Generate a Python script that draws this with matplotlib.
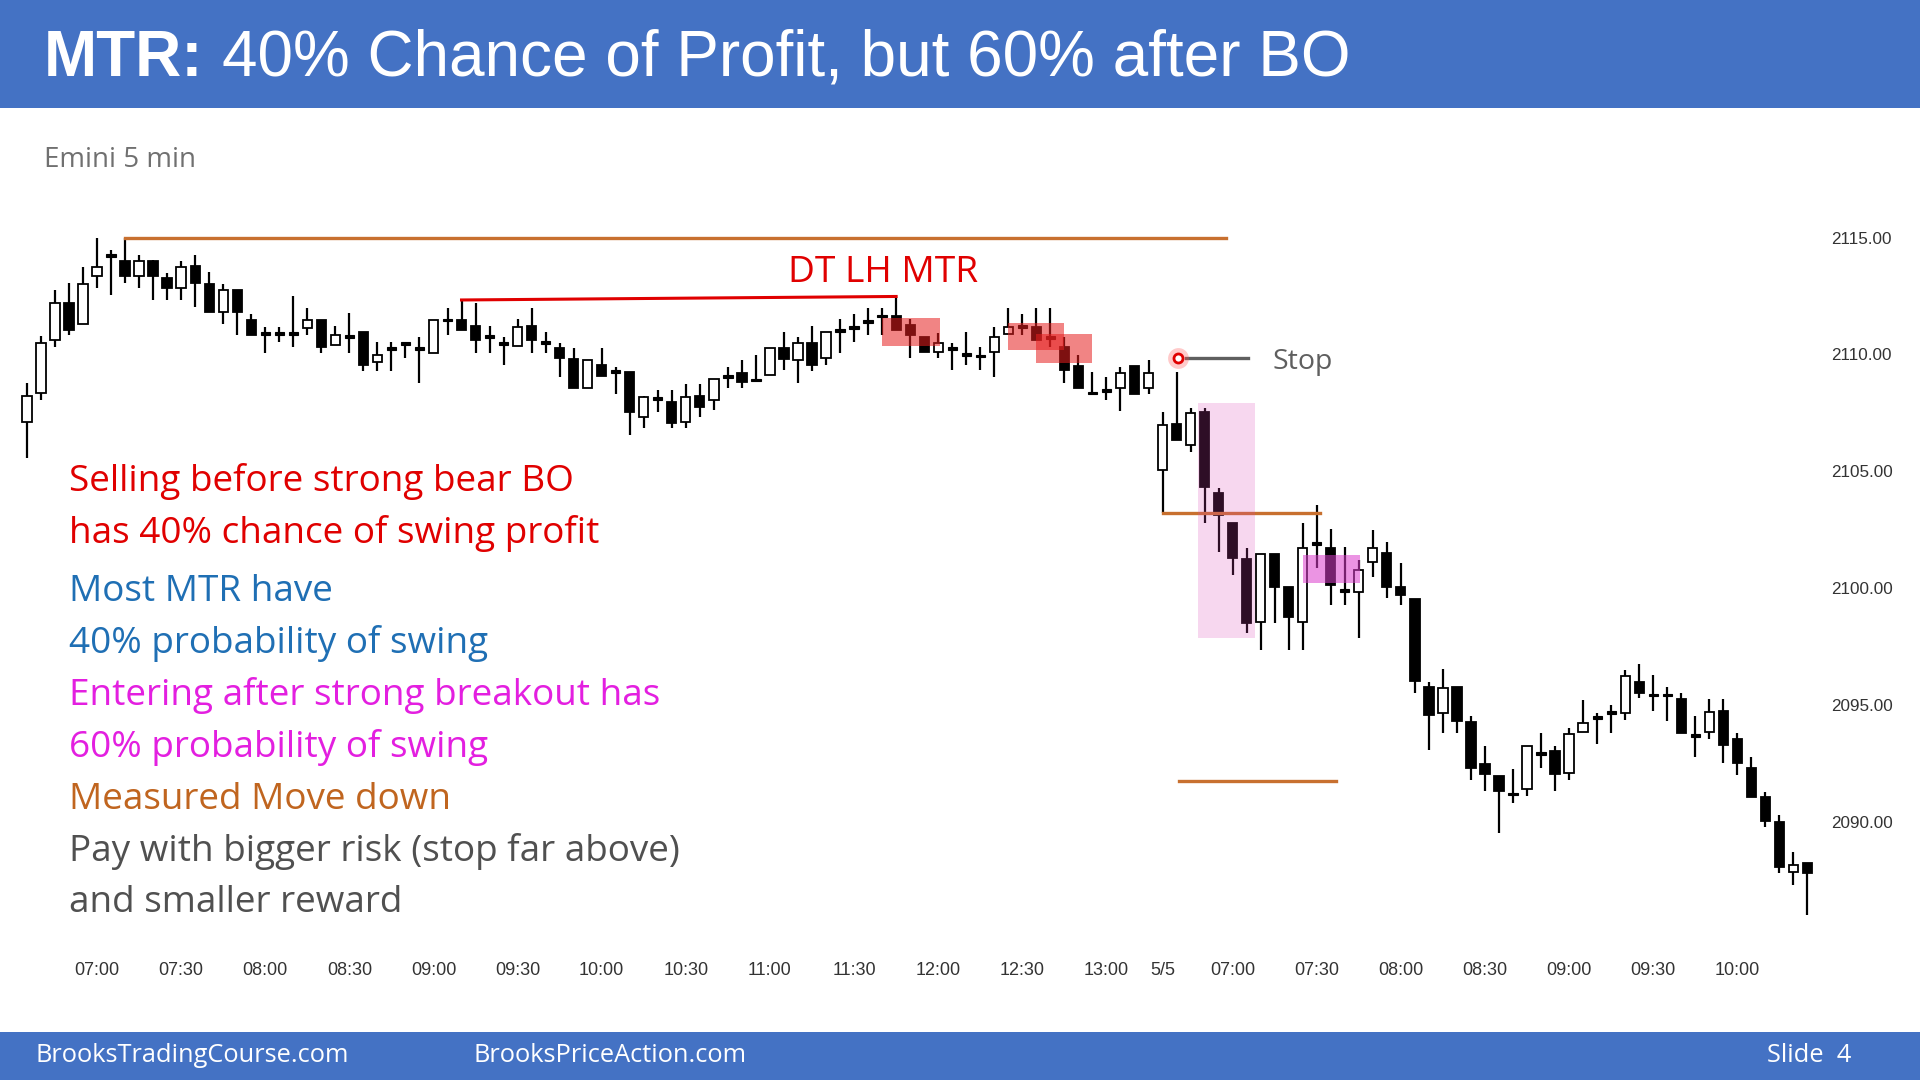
import matplotlib
matplotlib.use('Agg')
import matplotlib.pyplot as plt
from matplotlib.patches import Rectangle

# Emini 5 min bars (index 0 = 06:35 first day, 81 = 06:35 on 5/5)
opens = [2107.12, 2108.33, 2110.61, 2112.21, 2111.30, 2113.35, 2114.25, 2114.01, 2113.35, 2114.01,
         2113.25, 2112.83, 2113.78, 2113.01, 2111.83, 2112.75, 2111.47, 2110.90, 2110.90, 2110.90,
         2111.11, 2111.47, 2110.40, 2110.76, 2110.97, 2109.69, 2110.26, 2110.47, 2110.26, 2110.07,
         2111.47, 2111.47, 2111.20, 2110.76, 2110.47, 2110.35, 2111.20, 2110.50, 2110.26, 2109.79,
         2108.55, 2109.54, 2109.26, 2109.26, 2107.30, 2108.12, 2107.98, 2107.12, 2108.22, 2108.05,
         2109.04, 2109.21, 2108.90, 2109.12, 2110.26, 2109.76, 2110.50, 2109.83, 2111.04, 2111.15,
         2111.40, 2111.64, 2111.64, 2111.26, 2110.76, 2110.12, 2110.26, 2110.00, 2109.93, 2110.12,
         2110.87, 2111.18, 2111.18, 2110.73, 2110.30, 2109.50, 2108.35, 2108.47, 2108.55, 2109.50,
         2108.55,
         2105.05, 2107.01, 2106.12, 2107.55, 2104.06, 2102.77, 2101.23, 2098.56, 2101.46, 2100.03,
         2098.56, 2101.90, 2101.70, 2099.90, 2099.84, 2101.13, 2101.49, 2100.03, 2099.51, 2095.75,
         2094.63, 2095.75, 2094.28, 2092.47, 2091.95, 2091.18, 2091.38, 2092.92, 2093.04, 2092.07,
         2093.85, 2094.46, 2094.66, 2094.63, 2095.99, 2095.42, 2095.42, 2095.23, 2093.70, 2093.85,
         2094.73, 2093.52, 2092.28, 2091.04, 2089.99, 2087.86, 2088.21]
highs = [2108.76, 2110.79, 2112.75, 2113.04, 2113.75, 2115.00, 2114.47, 2115.00, 2114.25, 2114.04,
         2113.47, 2114.01, 2114.25, 2113.54, 2113.01, 2112.75, 2111.73, 2111.18, 2111.18, 2112.50,
         2111.97, 2111.47, 2111.20, 2111.76, 2110.97, 2110.54, 2110.54, 2110.47, 2110.76, 2111.47,
         2111.97, 2112.33, 2112.18, 2111.20, 2110.76, 2111.50, 2111.97, 2110.97, 2110.50, 2110.26,
         2109.76, 2110.26, 2109.47, 2109.26, 2108.20, 2108.47, 2108.47, 2108.73, 2108.73, 2108.93,
         2109.47, 2109.76, 2109.97, 2110.26, 2110.97, 2110.76, 2111.20, 2110.97, 2111.50, 2111.73,
         2111.97, 2111.97, 2112.44, 2111.50, 2110.76, 2110.90, 2110.50, 2110.97, 2110.33, 2111.18,
         2111.97, 2111.73, 2111.97, 2111.97, 2110.76, 2109.97, 2109.26, 2109.04, 2109.47, 2109.50,
         2109.76,
         2107.55, 2109.26, 2107.69, 2107.69, 2104.27, 2102.77, 2101.70, 2101.46, 2101.46, 2100.03,
         2102.77, 2103.55, 2102.51, 2101.74, 2101.20, 2102.48, 2101.98, 2101.06, 2099.51, 2095.99,
         2096.52, 2095.75, 2094.52, 2093.24, 2091.95, 2092.24, 2093.24, 2093.78, 2093.24, 2093.99,
         2095.21, 2094.66, 2094.99, 2096.49, 2096.75, 2096.28, 2095.75, 2095.49, 2094.52, 2095.23,
         2095.23, 2093.78, 2092.75, 2091.28, 2090.28, 2088.71, 2088.21]
lows = [2105.55, 2108.05, 2110.33, 2110.83, 2111.30, 2112.83, 2112.54, 2113.07, 2112.83, 2112.33,
        2112.33, 2112.33, 2112.04, 2111.83, 2111.30, 2110.83, 2110.83, 2110.07, 2110.54, 2110.33,
        2110.83, 2110.07, 2110.40, 2110.07, 2109.30, 2109.30, 2109.30, 2109.83, 2108.79, 2110.07,
        2110.83, 2111.04, 2110.07, 2110.07, 2109.54, 2110.35, 2110.07, 2110.07, 2109.04, 2108.55,
        2108.55, 2109.08, 2108.30, 2106.55, 2106.83, 2107.55, 2106.83, 2106.83, 2107.33, 2107.62,
        2108.55, 2108.55, 2108.90, 2109.12, 2109.33, 2108.79, 2109.30, 2109.54, 2110.07, 2110.54,
        2110.83, 2110.83, 2111.04, 2109.83, 2110.12, 2109.83, 2109.33, 2109.54, 2109.33, 2109.04,
        2110.87, 2110.83, 2110.62, 2110.33, 2108.79, 2108.55, 2108.30, 2108.05, 2107.59, 2108.30,
        2108.30,
        2103.20, 2106.34, 2105.84, 2102.80, 2101.56, 2100.56, 2098.06, 2097.35, 2098.52, 2097.35,
        2097.35, 2100.84, 2099.27, 2099.27, 2097.85, 2100.48, 2099.56, 2099.27, 2095.52, 2093.07,
        2093.81, 2093.81, 2091.78, 2091.32, 2089.53, 2090.81, 2091.10, 2092.28, 2091.32, 2091.78,
        2093.85, 2093.32, 2093.81, 2094.35, 2095.28, 2094.75, 2094.32, 2093.81, 2092.78, 2093.52,
        2092.52, 2091.99, 2091.07, 2089.78, 2087.81, 2087.29, 2086.00]
closes = [2108.20, 2110.50, 2112.21, 2111.04, 2113.00, 2113.75, 2114.25, 2113.35, 2114.01, 2113.35,
          2112.83, 2113.75, 2113.07, 2111.83, 2112.75, 2111.83, 2110.83, 2110.90, 2110.90, 2110.90,
          2111.47, 2110.33, 2110.83, 2110.76, 2109.54, 2109.97, 2110.26, 2110.47, 2110.26, 2111.47,
          2111.47, 2111.04, 2110.62, 2110.76, 2110.47, 2111.18, 2110.62, 2110.50, 2109.83, 2108.55,
          2109.76, 2109.08, 2109.26, 2107.55, 2108.19, 2108.12, 2107.05, 2108.19, 2107.76, 2108.93,
          2109.04, 2108.83, 2108.90, 2110.26, 2109.79, 2110.50, 2109.54, 2110.97, 2111.04, 2111.15,
          2111.40, 2111.64, 2111.04, 2110.83, 2110.12, 2110.47, 2110.26, 2110.00, 2109.93, 2110.76,
          2111.18, 2111.18, 2110.62, 2110.73, 2109.33, 2108.55, 2108.35, 2108.47, 2109.21, 2108.30,
          2109.21,
          2106.98, 2106.34, 2107.50, 2104.34, 2103.12, 2101.27, 2098.52, 2101.46, 2100.06, 2098.77,
          2101.70, 2101.90, 2100.13, 2099.90, 2100.77, 2101.70, 2100.06, 2099.70, 2096.03, 2094.56,
          2095.70, 2094.32, 2092.28, 2092.04, 2091.32, 2091.18, 2093.24, 2092.92, 2092.04, 2093.75,
          2094.24, 2094.46, 2094.66, 2096.23, 2095.52, 2095.42, 2095.42, 2093.81, 2093.70, 2094.71,
          2093.28, 2092.52, 2091.07, 2090.04, 2088.04, 2088.14, 2087.81]

time_ticks = [5, 11, 17, 23, 29, 35, 41, 47, 53, 59, 65, 71, 77, 81,
              86, 92, 98, 104, 110, 116, 122]
time_labels = ['07:00', '07:30', '08:00', '08:30', '09:00', '09:30', '10:00', '10:30', '11:00',
               '11:30', '12:00', '12:30', '13:00', '5/5', '07:00', '07:30', '08:00', '08:30',
               '09:00', '09:30', '10:00']
price_ticks = [2090, 2095, 2100, 2105, 2110, 2115]

# annotation levels
top_level = 2115.0
dt_line = [2112.33, 2112.48]
bo_level = 2103.23
mm_target = 2091.73
stop_price = 2109.85
red_boxes = [(61.0, 65.1, 2110.34, 2111.54), (70.0, 74.0, 2110.20, 2111.36), (72.0, 76.0, 2109.65, 2110.86)]

W, H = 1920, 1080


def fx(x):
    return x / W


def fy(y):
    return 1 - y / H


fig = plt.figure(figsize=(19.2, 10.8), dpi=100)
fig.patch.set_facecolor('white')

# header and footer bars
fig.add_artist(Rectangle((0, fy(107.7)), 1, 107.7 / H, transform=fig.transFigure,
                         facecolor='#4472C4', edgecolor='none'))
fig.add_artist(Rectangle((0, 0), 1, 48 / H, transform=fig.transFigure,
                         facecolor='#4472C4', edgecolor='none'))

fig.text(fx(44), fy(76), 'MTR:', fontsize=46, weight='bold', color='white',
         family='Liberation Sans', va='baseline')
fig.text(fx(222), fy(76), '40% Chance of Profit, but 60% after BO', fontsize=46,
         color='white', family='Liberation Sans', va='baseline')
fig.text(fx(44), fy(167), 'Emini 5 min', fontsize=20, color='#707070',
         family='Open Sans', va='baseline')

foot_y = fy(1062)
fig.text(fx(35), foot_y, 'BrooksTradingCourse.com', fontsize=18.3, color='white',
         family='Open Sans', va='baseline')
fig.text(fx(474), foot_y, 'BrooksPriceAction.com', fontsize=18.3, color='white',
         family='Open Sans', va='baseline')
fig.text(fx(1851), foot_y, 'Slide  4', fontsize=18.3, color='white',
         family='Open Sans', va='baseline', ha='right')

# chart
ax = fig.add_axes([0, fy(955), fx(1820), fy(180) - fy(955)])
ax.set_xlim(-1.919, 127.896)
ax.set_ylim(2084.289, 2117.466)
ax.patch.set_alpha(0)
for s in ax.spines.values():
    s.set_visible(False)
ax.yaxis.tick_right()
ax.set_yticks(price_ticks)
ax.set_yticklabels([f'{p:.2f}' for p in price_ticks])
ax.tick_params(axis='y', length=0, pad=8, labelsize=12.3, labelcolor='#333333')
ax.set_xticks(time_ticks)
ax.set_xticklabels(time_labels)
ax.tick_params(axis='x', length=0, pad=5, labelsize=13, labelcolor='#333333')
for lbl in ax.get_xticklabels():
    lbl.set_family(['Liberation Sans Narrow', 'Liberation Sans'])
for lbl in ax.get_yticklabels():
    lbl.set_family('Liberation Sans')

bw = 0.66
for i in range(len(opens)):
    o, h, l, c = opens[i], highs[i], lows[i], closes[i]
    ax.vlines(i, l, h, color='black', lw=1.6, zorder=2)
    if abs(c - o) < 0.1:
        ax.add_patch(Rectangle((i - bw / 2, (o + c) / 2 - 0.06), bw, 0.12,
                               facecolor='black', edgecolor='black', lw=0.8, zorder=3))
    else:
        face = 'white' if c > o else 'black'
        ax.add_patch(Rectangle((i - bw / 2, min(o, c)), bw, abs(c - o),
                               facecolor=face, edgecolor='black', lw=1.3, zorder=3))

orange = '#C8702F'
ax.plot([7.0, 85.5], [top_level, top_level], color=orange, lw=2.4, zorder=4)
ax.plot([31.0, 62.0], dt_line, color='#E00000', lw=2.2, zorder=4)
ax.plot([81.0, 92.2], [bo_level, bo_level], color=orange, lw=2.4, zorder=4)
ax.plot([82.2, 93.4], [mm_target, mm_target], color=orange, lw=2.4, zorder=4)

for x0, x1, y0, y1 in red_boxes:
    ax.add_patch(Rectangle((x0, y0), x1 - x0, y1 - y0, facecolor=(0.9, 0.12, 0.12),
                           alpha=0.55, edgecolor='none', zorder=5))
ax.add_patch(Rectangle((83.5, 2097.86), 4.1, 2107.9 - 2097.86, facecolor=(219 / 255, 67 / 255, 181 / 255),
                       alpha=0.21, edgecolor='none', zorder=5))
ax.add_patch(Rectangle((91.0, 2100.2), 4.1, 1.22, facecolor=(0.86, 0.24, 0.8),
                       alpha=0.55, edgecolor='none', zorder=5))

ax.plot([82.7, 87.1], [stop_price, stop_price], color='#5f5f5f', lw=2.4, zorder=5)
ax.plot([82.1], [stop_price], 'o', ms=15, color='#ff5050', alpha=0.3, mec='none', zorder=6)
ax.plot([82.1], [stop_price], 'o', ms=6.5, mfc='white', mec='#E00000', mew=2, zorder=7)

fig.text(fx(1272), fy(368.6), 'Stop', fontsize=20.5, color='#5f5f5f', family='Open Sans', va='baseline')
fig.text(fx(788), fy(281.7), 'DT LH MTR', fontsize=26.7, color='#E00000', family='Open Sans',
         va='baseline')

lines = [('Selling before strong bear BO', '#E00000', 491),
         ('has 40% chance of swing profit', '#E00000', 542.5),
         ('Most MTR have', '#1F6FB4', 601),
         ('40% probability of swing', '#1F6FB4', 652.7),
         ('Entering after strong breakout has', '#E31FE0', 705.3),
         ('60% probability of swing', '#E31FE0', 756.7),
         ('Measured Move down', '#C0651F', 809.4),
         ('Pay with bigger risk (stop far above)', '#505050', 860.8),
         ('and smaller reward', '#505050', 912.3)]
for txt, col, yb in lines:
    fig.text(fx(68.6), fy(yb), txt, fontsize=26.6, color=col, family='Open Sans', va='baseline')

fig.savefig('out.png', dpi=100, facecolor='white')
